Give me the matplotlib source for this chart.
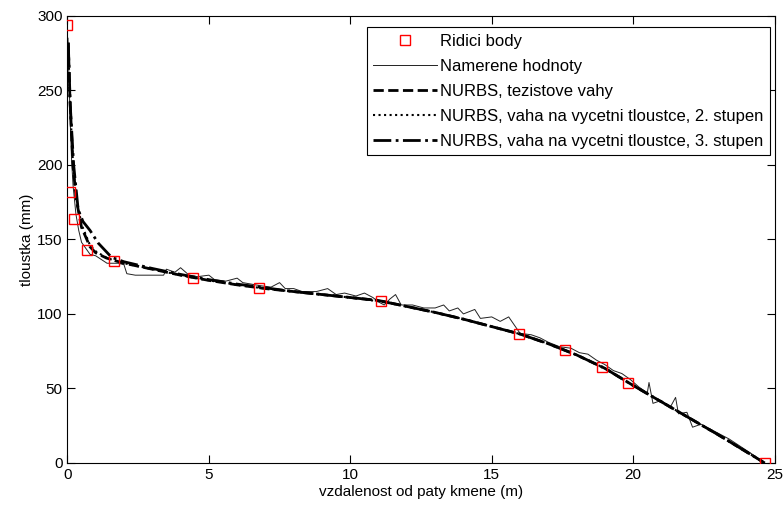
import numpy as np
import matplotlib.pyplot as plt

plt.rcParams['font.family'] = ['Liberation Sans', 'DejaVu Sans']

# control points (red squares)
ctrl_x = [0.0, 0.08, 0.22, 0.7, 1.64, 4.43, 6.76, 11.1, 15.97, 17.6, 18.9, 19.8, 24.65]
ctrl_y = [294, 182, 164, 143, 135.6, 124, 117.4, 109, 86.6, 75.8, 64.4, 53.7, 0]

# measured values (thin line)
meas_x = [0.02, 0.05, 0.1, 0.15, 0.2, 0.3, 0.4, 0.5, 0.8, 1.0, 1.4, 1.8, 2.0, 2.1, 2.4,
          3.0, 3.4, 3.5, 3.8, 4.0, 4.3, 4.6, 5.0, 5.2, 5.6, 6.0, 6.2, 6.8, 7.2, 7.5,
          7.7, 8.0, 8.3, 8.8, 9.2, 9.5, 9.8, 10.2, 10.5, 10.8, 11.0, 11.2, 11.4, 11.6,
          11.8, 12.2, 12.6, 13.0, 13.3, 13.5, 13.8, 14.0, 14.4, 14.6, 15.0, 15.3, 15.6,
          16.0, 16.4, 16.7, 17.0, 17.4, 17.8, 18.1, 18.4, 18.7, 19.0, 19.3, 19.6, 19.9,
          20.2, 20.5, 20.56, 20.7, 21.0, 21.3, 21.5, 21.6, 21.9, 22.1, 22.4, 22.7, 23.0,
          23.4, 23.8, 24.2, 24.65]
meas_y = [285, 262, 228, 202, 186, 167, 156, 148, 140, 139, 134, 134, 133, 127, 126,
          126, 126, 130, 128, 131, 126, 125, 126, 123, 122, 124, 121, 119, 118, 121,
          117, 117, 115, 115, 117, 113, 114, 112, 114, 111, 108, 106, 110, 113,
          106, 106, 104, 104, 106, 102, 104, 100, 103, 97, 98, 95, 98,
          87, 86, 84, 81, 78, 77, 74, 73, 69, 66, 62, 60, 56,
          51, 47, 54, 40, 42, 37, 44, 33, 34, 24, 26, 23, 20,
          16, 11, 6, 0]

# NURBS, tezistove vahy (dashed)
n1_x = [0.03, 0.09, 0.2, 0.32, 0.5, 0.8, 1.0, 1.38, 1.64, 2, 3, 4, 5, 6, 7, 8, 9, 10, 11,
        12, 13, 14, 15, 16, 17, 18, 19, 20, 21, 22, 23, 24, 24.65]
n1_y = [282, 244, 199, 176, 158, 145, 141, 137.5, 136, 134, 130, 126, 122.5, 119.5, 117,
        115, 113, 111, 109, 105, 101, 96.5, 91.5, 86.5, 80, 72.5, 63.5, 52, 41, 30, 19,
        7.5, 0]

# NURBS, 2. stupen (dotted)
n2_x = [0.03, 0.1, 0.2, 0.3, 0.5, 0.8, 1.0, 1.4, 1.64, 2, 3, 4, 5, 6, 7, 8, 9, 10, 11,
        12, 13, 14, 15, 16, 17, 18, 19, 20, 21, 22, 23, 24, 24.65]
n2_y = [280, 238, 200, 179, 160, 146, 142, 137.5, 136, 134, 130, 126, 122.5, 119.5, 117,
        115, 113, 111, 108.5, 105, 101, 96.5, 91.5, 86.5, 80, 72.5, 63.5, 52, 41, 30, 19,
        7.5, 0]

# NURBS, 3. stupen (dash-dot)
n3_x = [0.03, 0.1, 0.22, 0.38, 0.55, 0.8, 1.09, 1.56, 2, 3, 4, 5, 6, 7, 8, 9, 10, 11,
        12, 13, 14, 15, 16, 17, 18, 19, 20, 21, 22, 23, 24, 24.65]
n3_y = [282, 240, 200, 170, 162, 156, 147.5, 138, 135, 130.5, 126.5, 123, 120, 117.5,
        115, 113, 111, 109, 105, 101, 96.5, 91.5, 86.5, 80, 72.5, 63.5, 52, 41, 30, 19,
        7.5, 0]

fig = plt.figure(figsize=(7.84, 5.11), dpi=100)
ax = fig.add_axes([0.086, 0.094, 0.902, 0.875])

ax.plot(ctrl_x, ctrl_y, 's', color='red', mfc='none', ms=7.5, mew=1, label='Ridici body', zorder=5)
ax.plot(meas_x, meas_y, '-', color='#222222', lw=0.7, label='Namerene hodnoty')
ax.plot(n1_x, n1_y, '--', color='black', lw=2, label='NURBS, tezistove vahy')
ax.plot(n2_x, n2_y, ':', color='black', lw=1.5, label='NURBS, vaha na vycetni tloustce, 2. stupen')
ax.plot(n3_x, n3_y, '-.', color='black', lw=2, label='NURBS, vaha na vycetni tloustce, 3. stupen')

ax.set_xlim(0, 25)
ax.set_ylim(0, 300)
ax.set_xticks([0, 5, 10, 15, 20, 25])
ax.set_yticks([0, 50, 100, 150, 200, 250, 300])
ax.tick_params(direction='in', top=True, right=True, labelsize=11, length=6)
ax.set_xlabel('vzdalenost od paty kmene (m)', fontsize=11, labelpad=2)
ax.set_ylabel('tloustka (mm)', fontsize=11, labelpad=2)

leg = ax.legend(loc='upper right', fontsize=12, fancybox=False, edgecolor='black',
                framealpha=1, handlelength=3.8, handletextpad=0.2, borderpad=0.4,
                labelspacing=0.6, borderaxespad=0, bbox_to_anchor=(0.9935, 0.975))
leg.get_frame().set_linewidth(0.8)

fig.savefig('out.png', dpi=100)
